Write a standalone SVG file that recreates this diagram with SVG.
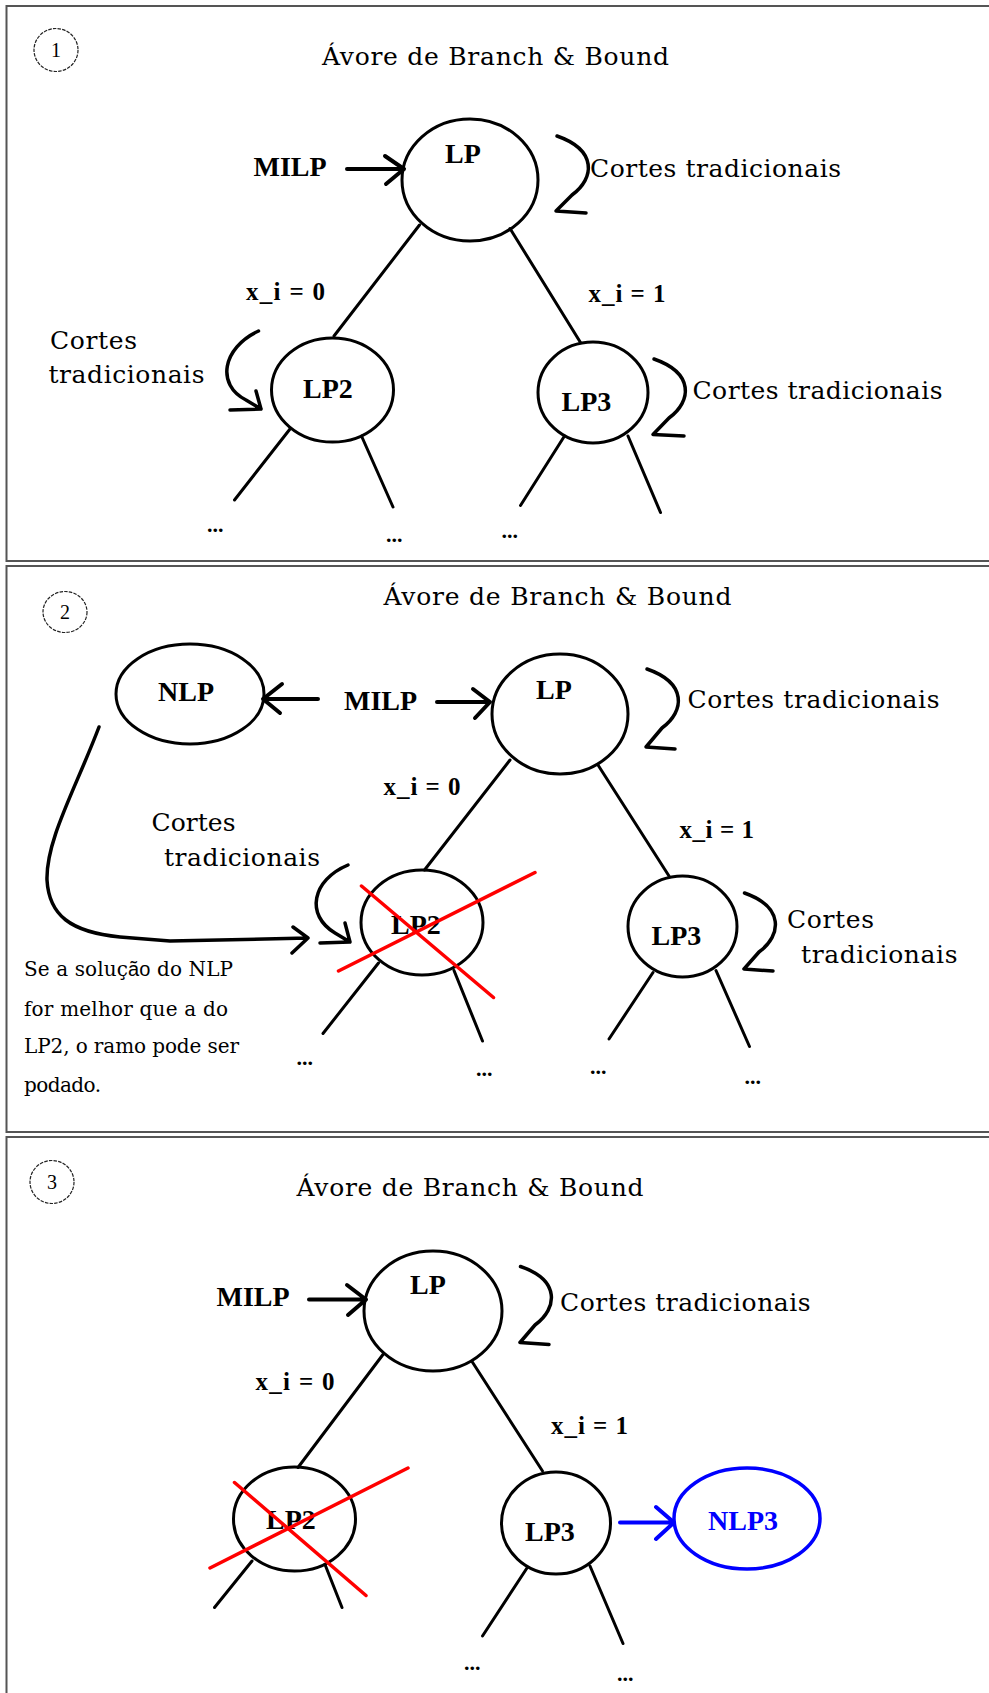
<svg xmlns="http://www.w3.org/2000/svg" width="989" height="1693" viewBox="0 0 989 1693">
<style>
.panel{fill:#fff;stroke:#555;stroke-width:2}
.num{fill:none;stroke:#222;stroke-width:1.2;stroke-dasharray:3.5 1.2}
.numt{font-family:"Liberation Serif",serif;font-size:20px;fill:#000;text-anchor:middle}
.node{fill:none;stroke:#000;stroke-width:3}
.blue{fill:none;stroke:#0000ff;stroke-width:3.5}
.lbl{font-family:"Liberation Serif",serif;font-weight:bold;font-size:28px;fill:#000}
.lblb{font-family:"Liberation Serif",serif;font-weight:bold;font-size:28px;fill:#0000ff}
.xi{font-family:"Liberation Serif",serif;font-weight:bold;font-size:25px;fill:#000}
.dots{font-family:"Liberation Serif",serif;font-weight:bold;font-size:22px;fill:#000}
.title{font-family:"DejaVu Serif",serif;font-size:25px;fill:#000}
.cut{font-family:"DejaVu Serif",serif;font-size:25px;fill:#000}
.note{font-family:"DejaVu Serif",serif;font-size:20px;fill:#000}
.line{fill:none;stroke:#000;stroke-width:3;stroke-linecap:round}
.arr{fill:none;stroke:#000;stroke-width:4;stroke-linecap:round;stroke-linejoin:round}
.loop{fill:none;stroke:#000;stroke-width:3.5;stroke-linecap:round;stroke-linejoin:round}
.x{fill:none;stroke:#ff0000;stroke-width:3.5;stroke-linecap:round}
.barr{fill:none;stroke:#0000ff;stroke-width:4;stroke-linecap:round;stroke-linejoin:round}
</style>

<!-- panel frames -->
<g id="panels">
<rect class="panel" x="6.5" y="6" width="1000" height="555"/>
<rect class="panel" x="6.5" y="566" width="1000" height="566"/>
<rect class="panel" x="6.5" y="1137" width="1000" height="600"/>
</g>

<!-- ============ PANEL 1 ============ -->
<g id="p1-number"><ellipse class="num" cx="56" cy="50" rx="22" ry="21.5"/><text class="numt" x="56" y="57">1</text></g>
<text id="p1-title" class="title" x="322" y="65" textLength="347">Ávore de Branch &amp; Bound</text>
<g id="p1-LP"><ellipse class="node" cx="470" cy="180" rx="68" ry="61"/><text class="lbl" x="445" y="163">LP</text></g>
<g id="p1-LP2"><ellipse class="node" cx="332.5" cy="390" rx="61" ry="52"/><text class="lbl" x="303" y="398">LP2</text></g>
<g id="p1-LP3"><ellipse class="node" cx="593" cy="392.5" rx="55" ry="50.5"/><text class="lbl" x="561.5" y="411">LP3</text></g>
<text id="p1-milp" class="lbl" x="253.5" y="176">MILP</text>
<text class="xi" x="246" y="300" textLength="79">x_i = 0</text>
<text class="xi" x="588.5" y="302" textLength="77">x_i = 1</text>
<text class="cut" x="590" y="177" textLength="251">Cortes tradicionais</text>
<text class="cut" x="50" y="349" textLength="87">Cortes</text>
<text class="cut" x="48.5" y="383" textLength="156">tradicionais</text>
<text class="cut" x="692.5" y="399" textLength="250">Cortes tradicionais</text>
<text class="dots" x="207" y="532">...</text>
<text class="dots" x="386" y="542">...</text>
<text class="dots" x="501.5" y="538">...</text>

<!-- ============ PANEL 2 ============ -->
<g id="p2-number"><ellipse class="num" cx="65" cy="612" rx="22" ry="20.5"/><text class="numt" x="65" y="619">2</text></g>
<text id="p2-title" class="title" x="383.5" y="605" textLength="348">Ávore de Branch &amp; Bound</text>
<g id="p2-NLP"><ellipse class="node" cx="190" cy="694" rx="74" ry="50"/><text class="lbl" x="158" y="700.5">NLP</text></g>
<g id="p2-LP"><ellipse class="node" cx="560" cy="714" rx="68" ry="60"/><text class="lbl" x="536" y="698.5">LP</text></g>
<g id="p2-LP2"><ellipse class="node" cx="422" cy="922.5" rx="61" ry="52.5"/><text class="lbl" x="391" y="933.5">LP2</text></g>
<g id="p2-LP3"><ellipse class="node" cx="682.5" cy="926.5" rx="54.5" ry="50.5"/><text class="lbl" x="651.5" y="944.5">LP3</text></g>
<text id="p2-milp" class="lbl" x="344" y="710">MILP</text>
<text class="xi" x="383.5" y="795" textLength="77">x_i = 0</text>
<text class="xi" x="679.5" y="837.5" textLength="74.5">x_i = 1</text>
<text class="cut" x="687.5" y="708" textLength="252">Cortes tradicionais</text>
<text class="cut" x="151.5" y="831" textLength="84">Cortes</text>
<text class="cut" x="164" y="866" textLength="156">tradicionais</text>
<text class="cut" x="787" y="928" textLength="87">Cortes</text>
<text class="cut" x="801" y="963" textLength="156.5">tradicionais</text>
<text id="p2-note" class="note">
<tspan x="24" y="976" textLength="209">Se a soluç<tspan font-family="'Liberation Sans',sans-serif">ão</tspan> do NLP</tspan>
<tspan x="24" y="1016" textLength="204">for melhor que a do</tspan>
<tspan x="24" y="1053" textLength="215">LP2, o ramo pode ser</tspan>
<tspan x="24" y="1092" textLength="77">podado.</tspan>
</text>
<text class="dots" x="296.5" y="1065">...</text>
<text class="dots" x="476" y="1076">...</text>
<text class="dots" x="590" y="1074">...</text>
<text class="dots" x="744.5" y="1084">...</text>

<!-- ============ PANEL 3 ============ -->
<g id="p3-number"><ellipse class="num" cx="52" cy="1182" rx="22" ry="21.5"/><text class="numt" x="52" y="1189">3</text></g>
<text id="p3-title" class="title" x="296.5" y="1196" textLength="347">Ávore de Branch &amp; Bound</text>
<g id="p3-LP"><ellipse class="node" cx="433" cy="1311" rx="69" ry="60"/><text class="lbl" x="410" y="1293.5">LP</text></g>
<g id="p3-LP2"><ellipse class="node" cx="294.5" cy="1519" rx="61" ry="52"/><text class="lbl" x="266" y="1528.5">LP2</text></g>
<g id="p3-LP3"><ellipse class="node" cx="556" cy="1523" rx="54.5" ry="51"/><text class="lbl" x="525" y="1541">LP3</text></g>
<g id="p3-NLP3"><ellipse class="blue" cx="747" cy="1518.5" rx="73" ry="50.5"/><text class="lblb" x="708" y="1530">NLP3</text></g>
<text id="p3-milp" class="lbl" x="216.5" y="1306">MILP</text>
<text class="xi" x="255.5" y="1390" textLength="79">x_i = 0</text>
<text class="xi" x="551" y="1433.5" textLength="77">x_i = 1</text>
<text class="cut" x="560" y="1311" textLength="250.5">Cortes tradicionais</text>
<text class="dots" x="464" y="1670">...</text>
<text class="dots" x="617" y="1680.5">...</text>

<!-- ============ CONNECTORS ============ -->
<g id="connectors">
<!-- panel 1 -->
<path class="arr" d="M347,169 L404,169 M385,156 L404,169 L386,184"/>
<path class="loop" d="M557,136 C597,150 595,178 572,195 L556,211 L586,213"/>
<path class="loop" d="M258.5,331 C222,348 216,385 246,400 L261,409 M256,391 L261,409 L230,410"/>
<path class="loop" d="M654,359 C694,373 692,401 669,418 L653,434.5 L684,436"/>
<path class="line" d="M419.5,225 L334,336 M510,228.5 L580.5,342.5 M290,429 L234.5,500 M361.5,436 L393,507 M564.5,436 L520.5,505.5 M628,436 L660.5,512.5"/>
<!-- panel 2 -->
<path class="arr" d="M318,699 L263,699 M282,684 L263,699 L280,713"/>
<path class="arr" d="M437,702 L490,702 M473,689 L490,702 L475,718"/>
<path class="loop" d="M647,669 C687,683 685,711 662,728 L646,747 L675,749"/>
<path class="loop" d="M348,865 C312,880 305,915 335,933 L350,942 M345,923 L350,942 L320,943"/>
<path class="loop" d="M744.5,893 C784,907 782,935 759,952 L744,969 L773,971"/>
<path class="loop" d="M99,727 C75,790 46,840 47,880 C49,915 70,932 120,937 L170,941 L308,938 M293,927 L308,938 L292,953"/>
<path class="line" d="M510,760 L424.5,870 M598,765 L669,876 M378.5,963 L323,1033.5 M454,970.5 L482.5,1041 M653,972.5 L609,1039 M716,970.5 L749.5,1046.5"/>
<path class="x" d="M361.5,886 L493.5,997.5 M338.5,971 L535,872.5"/>
<!-- panel 3 -->
<path class="arr" d="M309,1299.5 L366,1299.5 M347,1285 L366,1299.5 L348,1315"/>
<path class="loop" d="M520.5,1266.5 C560,1280 558,1308 535,1325 L520,1342.5 L549,1344.5"/>
<path class="line" d="M383,1354.5 L298,1467.5 M472,1361.5 L542.5,1471 M252,1561 L214.5,1607.5 M325,1564.5 L342,1607.5 M527,1568 L482.5,1636 M590,1566 L623,1643.5"/>
<path class="x" d="M234.5,1482.5 L366,1595.5 M210,1568 L408,1468"/>
<path class="barr" d="M620,1522.5 L674,1522.5 M656,1507 L674,1522.5 L656,1539"/>
</g>
</svg>
